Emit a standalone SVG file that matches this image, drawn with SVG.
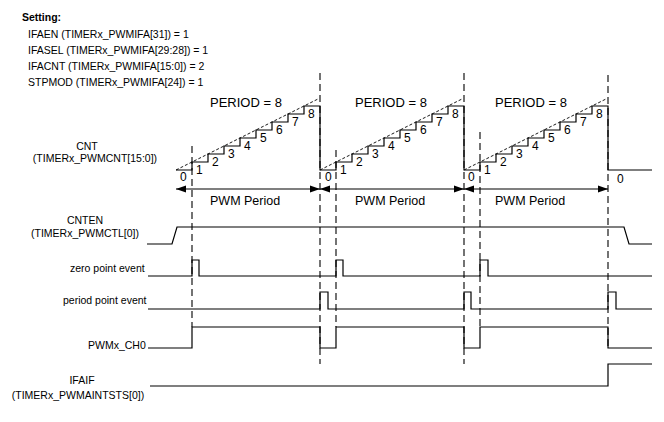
<svg xmlns="http://www.w3.org/2000/svg" width="664" height="422" viewBox="0 0 664 422">
<style>
text{font-family:"Liberation Sans",Arial,sans-serif;fill:#000}
.lbl{font-size:10.5px}
.bold{font-weight:bold}
.dig{font-size:12px}
.per{font-size:13px}
.pwm{font-size:12.5px}
.sig{fill:none;stroke:#000;stroke-width:1.2}
.vd{fill:none;stroke:#000;stroke-width:1.1;stroke-dasharray:7 4}
.sd{fill:none;stroke:#000;stroke-width:0.9;stroke-dasharray:3 2}
.arr{fill:none;stroke:#000;stroke-width:1.1;marker-start:url(#ah);marker-end:url(#ah)}
</style>
<defs>
<marker id="ah" markerUnits="userSpaceOnUse" markerWidth="10" markerHeight="8" refX="10" refY="4" orient="auto-start-reverse">
<path d="M0,0.5 L10,4 L0,7.5 z" fill="#000"/>
</marker>
</defs>
<rect width="664" height="422" fill="#fff"/>

<g id="settings">
<text class="lbl bold" x="22" y="21">Setting:</text>
<text class="lbl" x="28" y="38">IFAEN (TIMERx_PWMIFA[31]) = 1</text>
<text class="lbl" x="28" y="54">IFASEL (TIMERx_PWMIFA[29:28]) = 1</text>
<text class="lbl" x="28" y="70">IFACNT (TIMERx_PWMIFA[15:0]) = 2</text>
<text class="lbl" x="28" y="86">STPMOD (TIMERx_PWMIFA[24]) = 1</text>
</g>

<g id="labels">
<text class="lbl" x="87" y="150" text-anchor="middle">CNT</text>
<text class="lbl" x="95" y="162" text-anchor="middle">(TIMERx_PWMCNT[15:0])</text>
<text class="lbl" x="85" y="224" text-anchor="middle">CNTEN</text>
<text class="lbl" x="85" y="237" text-anchor="middle">(TIMERx_PWMCTL[0])</text>
<text class="lbl" x="70" y="272">zero point event</text>
<text class="lbl" x="63" y="304">period point event</text>
<text class="lbl" x="88" y="349">PWMx_CH0</text>
<text class="lbl" x="82" y="384" text-anchor="middle">IFAIF</text>
<text class="lbl" x="78" y="399" text-anchor="middle">(TIMERx_PWMAINTSTS[0])</text>
</g>

<g id="connectors">
<path class="vd" d="M192,146 V327 M320,73 V364 M336,150 V327 M464,73 V364 M480,132 V327 M608,75 V348"/>
<path class="sd" d="M176,170 L318,99 M320,170 L462,99 M464,170 L606,99"/>
<path class="arr" d="M176,189 H320"/>
<path class="arr" d="M320,189 H464"/>
<path class="arr" d="M464,189 H608"/>
</g>

<g id="cnt">
<path class="sig" d="M176,170 H192 V162 H208 V154 H224 V146 H240 V138 H256 V130 H272 V122 H288 V114 H304 V106 H320 V170 H336 V162 H352 V154 H368 V146 H384 V138 H400 V130 H416 V122 H432 V114 H448 V106 H464 V170 H480 V162 H496 V154 H512 V146 H528 V138 H544 V130 H560 V122 H576 V114 H592 V106 H608 V170 H652"/>
<g class="dig">
<text x="180" y="181">0</text>
<text x="196" y="174">1</text><text x="212" y="166">2</text><text x="228" y="158">3</text><text x="244" y="150">4</text><text x="260" y="142">5</text><text x="276" y="134">6</text><text x="292" y="126">7</text><text x="308" y="118">8</text>
<text x="325" y="181">0</text>
<text x="340" y="174">1</text><text x="356" y="166">2</text><text x="372" y="158">3</text><text x="388" y="150">4</text><text x="404" y="142">5</text><text x="420" y="134">6</text><text x="436" y="126">7</text><text x="452" y="118">8</text>
<text x="468" y="181">0</text>
<text x="484" y="174">1</text><text x="500" y="166">2</text><text x="516" y="158">3</text><text x="532" y="150">4</text><text x="548" y="142">5</text><text x="564" y="134">6</text><text x="580" y="126">7</text><text x="596" y="118">8</text>
<text x="617" y="183">0</text>
</g>
<text class="per" x="210" y="107">PERIOD = 8</text>
<text class="per" x="355" y="107">PERIOD = 8</text>
<text class="per" x="495" y="107">PERIOD = 8</text>
<text class="pwm" x="210" y="205">PWM Period</text>
<text class="pwm" x="355" y="205">PWM Period</text>
<text class="pwm" x="495" y="205">PWM Period</text>
</g>

<g id="cnten"><path class="sig" d="M147,244 H172 L177,227 H624 L629,244 H652"/></g>
<g id="zero-event"><path class="sig" d="M148,276 H192 V260 H199 V276 H336 V260 H343 V276 H480 V260 H488 V276 H652"/></g>
<g id="period-event"><path class="sig" d="M148,309 H320 V292 H328 V309 H464 V292 H471 V309 H608 V292 H616 V309 H652"/></g>
<g id="pwm-ch0"><path class="sig" d="M148,348 H192 V327 H320 V348 H336 V327 H464 V348 H480 V327 H608 V348 H652"/></g>
<g id="ifaif"><path class="sig" d="M150,386 H608 V364 H652"/></g>
</svg>
